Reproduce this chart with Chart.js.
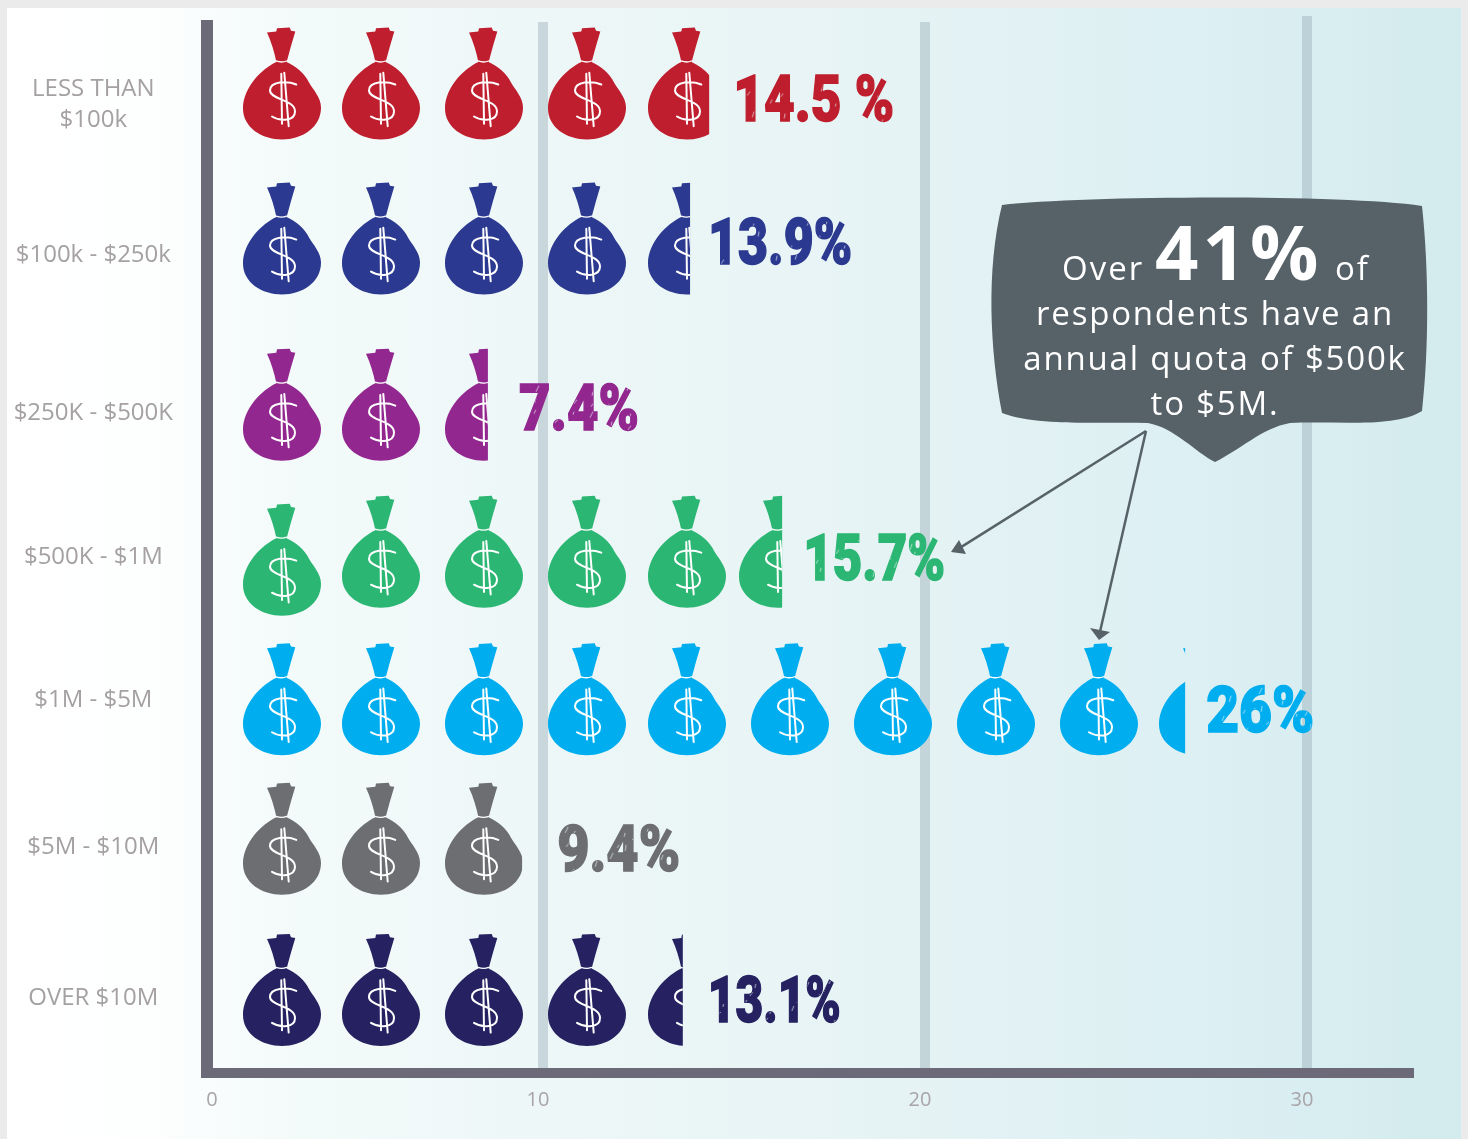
<!DOCTYPE html>
<html>
<head>
<meta charset="utf-8">
<style>
    html, body { margin: 0; padding: 0; background: #ebebeb; }
    #wrap { width: 1468px; height: 1139px; }
</style>
<script src="https://cdn.jsdelivr.net/npm/chart.js@4"></script>
</head>
<body>
<div id="wrap"><canvas id="quotaChart" width="1468" height="1139"></canvas></div>
<script>
const categories = [["LESS THAN", "$100k"], "$100k - $250k", "$250K - $500K", "$500K - $1M", "$1M - $5M", "$5M - $10M", "OVER $10M"];
// how far each row of bags reaches along the axis, as drawn in the picture
const bagReach = [14.35, 13.85, 8.31, 16.26, 26.81, 9.36, 13.66];
const percentLabels = ["14.5 %", "13.9%", "7.4%", "15.7%", "26%", "9.4%", "13.1%"];
const bagColors = ["#be1e2d", "#2b3990", "#92278f", "#2bb673", "#00aeef", "#6d6e71", "#262262"];
const xTicks = [0, 10, 20, 30];

// the picture was laid out by hand, these keep things where the artist put them
const rowShift = [3.7, 5.2, 13.7, 7.2, 0.7, -1.8, -0.3];
const bagRise = [-21, -17, -9, -5, -0.5, -8, -8];
const bagSteps = [0, 99, 202, 305, 405, 508, 611, 714, 817, 916];
const textBoxes = [
    { gap: 24, width: 161, dy: 8 },
    { gap: 18, width: 144, dy: -5 },
    { gap: 31, width: 120, dy: -5 },
    { gap: 21, width: 142, dy: -2 },
    { gap: 21, width: 108, dy: 2.5 },
    { gap: 35, width: 123, dy: 2 },
    { gap: 25, width: 133, dy: 2 }
];

// first decade of the axis is shorter than the others in the reference
class HandLaidX extends Chart.LinearScale {
    static id = 'handLaidX';
    static defaults = Chart.LinearScale.defaults;
    getPixelForValue(value) {
        const start = 10 / this.width;
        const ten = 336 / this.width;
        var d;
        if (value <= 10) {
            d = start + (ten - start) * value / 10;
        } else {
            d = ten + (value - 10) * 38.2 / this.width;
        }
        return this.getPixelForDecimal(d);
    }
}

// rows are not evenly spaced in the reference
class HandLaidY extends Chart.CategoryScale {
    static id = 'handLaidY';
    static defaults = Chart.CategoryScale.defaults;
    getPixelForValue(value) {
        return super.getPixelForValue(value) + (rowShift[Math.round(value)] || 0);
    }
}
Chart.register(HandLaidX, HandLaidY);

const tiePath = new Path2D("M-15 5L-5.7 4L-5 .7L7.7 0L9 3.3L13.3 4Q9 18 4.5 35L-5.5 35Q-9 18 -15 5Z");
const sackPath = new Path2D("M-5.5 34.5C-20 41 -39 60 -39 81C-39 100 -20 112 0 112C20 112 39 100 39 80C39 70 31 62 27 55C23 46 14 39 4.5 34.5Z");
const dollarPath = new Path2D("M14.3 57C5 53 -12 54 -12 63C-12 72 13 72 13 84C13 94 -2 94 -10 89M-.7 46.3L0 96.3M2.3 45.3L6.7 98.7");
const ringPath = new Path2D("M-6 33.5Q0 35.5 4.5 33.5");

function drawBag(ctx, x, top, color) {
    ctx.save();
    ctx.translate(x, top);
    ctx.fillStyle = color;
    ctx.fill(tiePath);
    ctx.fill(sackPath);
    ctx.strokeStyle = '#ffffff';
    ctx.lineWidth = 2;
    ctx.lineCap = 'round';
    ctx.stroke(dollarPath);
    ctx.lineWidth = 1.3;
    ctx.stroke(ringPath);
    ctx.restore();
}

// thin scratches through the numbers, the reference uses a chalk lettering
function scratchedText(ctx, text, x, y, width) {
    ctx.fillText(text, x, y, width);
    ctx.lineWidth = 1.5;
    ctx.strokeStyle = ctx.fillStyle;
    ctx.strokeText(text, x, y, width);
    const off = document.createElement('canvas');
    off.width = width + 10;
    off.height = 90;
    const o = off.getContext('2d');
    o.strokeStyle = 'rgba(240,250,250,.65)';
    o.lineWidth = 1;
    for (var i = 0; i < 30; i++) {
        const sx = (i * 37) % off.width;
        const sy = 20 + (i * 23) % 50;
        o.beginPath();
        o.moveTo(sx, sy);
        o.lineTo(sx + 1 + i % 3, sy - 3 - i % 4);
        o.stroke();
    }
    o.globalCompositeOperation = 'destination-in';
    o.font = ctx.font;
    o.textBaseline = 'middle';
    o.fillText(text, 0, 45, width);
    ctx.drawImage(off, x, y - 45);
}

const panelPlugin = {
    id: 'panel',
    beforeDraw(chart) {
        const ctx = chart.ctx;
        const g = ctx.createLinearGradient(7, 0, 1461, 0);
        g.addColorStop(0, '#ffffff');
        g.addColorStop(0.1, '#fdfefe');
        g.addColorStop(0.2, '#f3fafa');
        g.addColorStop(0.6, '#e6f3f4');
        g.addColorStop(0.85, '#dbeff3');
        g.addColorStop(1, '#d3ebed');
        ctx.fillStyle = '#ebebeb';
        ctx.fillRect(0, 0, 1468, 1139);
        ctx.fillStyle = g;
        ctx.fillRect(7, 8, 1454, 1131);
    }
};

const bagsPlugin = {
    id: 'bags',
    afterDatasetsDraw(chart) {
        const ctx = chart.ctx;
        const area = chart.chartArea;
        // grid lines stick out above the axis top, the 30 line the most
        ctx.fillStyle = 'rgba(150,172,180,.42)';
        xTicks.slice(1).forEach(function(v) {
            const up = v == 30 ? 10 : 4;
            ctx.fillRect(chart.scales.x.getPixelForValue(v) - 5, area.top - up, 10, up);
        });

        chart.getDatasetMeta(0).data.forEach(function(bar, row) {
            const center = bar.y + bagRise[row];
            ctx.save();
            ctx.beginPath();
            ctx.rect(area.left, center - 70, bar.x - area.left, 140);
            ctx.clip();
            for (var i = 0; i < bagSteps.length; i++) {
                var x = area.left + 75 + bagSteps[i];
                if (x - 39 > bar.x) break;
                // the cut off bag at the end of the green row sits a bit closer
                if (row == 3 && i == 5) x -= 12;
                var top = center - 56;
                if (row == 3 && i == 0) top += 8;
                drawBag(ctx, x, top, bagColors[row]);
            }
            ctx.restore();

            const box = textBoxes[row];
            ctx.save();
            ctx.font = '900 64px Roboto';
            ctx.textBaseline = 'middle';
            ctx.textAlign = 'left';
            ctx.fillStyle = bagColors[row];
            scratchedText(ctx, percentLabels[row], bar.x + box.gap, center + 14 + box.dy, box.width);
            ctx.restore();
        });
    }
};

const calloutPlugin = {
    id: 'callout',
    afterDraw(chart) {
        const ctx = chart.ctx;
        const area = chart.chartArea;
        ctx.save();
        // close the corner where the two axis lines meet
        ctx.fillStyle = '#6c6a78';
        ctx.fillRect(area.left - 6, area.bottom, 8, 5);

        ctx.fillStyle = '#566168';
        ctx.beginPath();
        ctx.moveTo(1002, 205);
        ctx.bezierCurveTo(1080, 196, 1340, 194, 1422, 206);
        ctx.bezierCurveTo(1429, 270, 1429, 350, 1422, 411);
        ctx.bezierCurveTo(1395, 428, 1340, 421, 1290, 423);
        ctx.bezierCurveTo(1262, 428, 1240, 450, 1215, 462);
        ctx.bezierCurveTo(1195, 452, 1175, 428, 1148, 423);
        ctx.bezierCurveTo(1095, 422, 1035, 426, 1002, 413);
        ctx.bezierCurveTo(990, 350, 986, 270, 1002, 205);
        ctx.closePath();
        ctx.fill();

        // arrows from the callout to the two rows
        ctx.strokeStyle = '#566168';
        ctx.lineWidth = 2.5;
        [[951, 552, 966, 554, 959, 540], [1099, 640, 1090, 628, 1110, 632]].forEach(function(a) {
            ctx.beginPath();
            ctx.moveTo(1146, 431);
            ctx.lineTo(a[0] + (a[2] + a[4] - 2 * a[0]) / 3, a[1] + (a[3] + a[5] - 2 * a[1]) / 3);
            ctx.stroke();
            ctx.beginPath();
            ctx.moveTo(a[0], a[1]);
            ctx.lineTo(a[2], a[3]);
            ctx.lineTo(a[4], a[5]);
            ctx.closePath();
            ctx.fill();
        });

        ctx.fillStyle = '#ffffff';
        ctx.textBaseline = 'alphabetic';
        ctx.textAlign = 'left';
        ctx.letterSpacing = '2px';
        ctx.font = '33px "Open Sans"';
        ctx.fillText('Over', 1062, 280);
        ctx.fillText('of', 1335, 280);
        ctx.letterSpacing = '1.8px';
        ctx.textAlign = 'center';
        ctx.fillText('respondents have an', 1215, 325);
        ctx.fillText('annual quota of $500k', 1215, 370);
        ctx.fillText('to $5M.', 1215, 415);
        ctx.textAlign = 'left';
        ctx.letterSpacing = '4px';
        ctx.font = 'bold 76px "Open Sans"';
        ctx.fillText('41%', 1155, 280);
        ctx.restore();
    }
};

new Chart(document.getElementById('quotaChart').getContext('2d'), {
    type: 'bar',
    data: {
        labels: categories,
        datasets: [{
            label: "Annual quota",
            data: bagReach,
            backgroundColor: 'transparent',
            borderWidth: 0
        }]
    },
    plugins: [panelPlugin, bagsPlugin, calloutPlugin],
    options: {
        indexAxis: 'y',
        responsive: false,
        animation: false,
        layout: { padding: { top: 26, right: 59, left: 0, bottom: 0 } },
        plugins: {
            legend: { display: false },
            tooltip: { enabled: false }
        },
        scales: {
            x: {
                type: 'handLaidX',
                position: 'bottom',
                min: 0,
                max: 32.8,
                afterFit: function(scale) {
                    scale.height = 66;
                    scale.paddingLeft = 0;
                    scale.paddingRight = 0;
                },
                afterBuildTicks: function(scale) {
                    scale.ticks = xTicks.map(function(v) { return { value: v }; });
                },
                grid: {
                    drawTicks: false,
                    lineWidth: 10,
                    color: function(c) {
                        return c.tick && c.tick.value == 0 ? 'transparent' : 'rgba(150,172,180,.42)';
                    }
                },
                border: { color: '#6c6a78', width: 10 },
                ticks: {
                    labelOffset: -5,
                    padding: 15,
                    maxRotation: 0,
                    autoSkip: false,
                    color: '#a8a4a8',
                    font: { family: '"Open Sans"', size: 20 },
                    callback: function(v) { return v; }
                }
            },
            y: {
                type: 'handLaidY',
                position: 'left',
                afterFit: function(scale) {
                    scale.width = 207;
                    scale.paddingTop = 0;
                    scale.paddingBottom = 0;
                },
                grid: { display: false, drawTicks: false },
                border: { color: '#6c6a78', width: 12 },
                ticks: {
                    crossAlign: 'center',
                    padding: 34,
                    color: '#a5a1a3',
                    autoSkip: false,
                    font: { family: '"Open Sans"', size: 24, lineHeight: 1.3 }
                }
            }
        }
    }
});
</script>
</body>
</html>
